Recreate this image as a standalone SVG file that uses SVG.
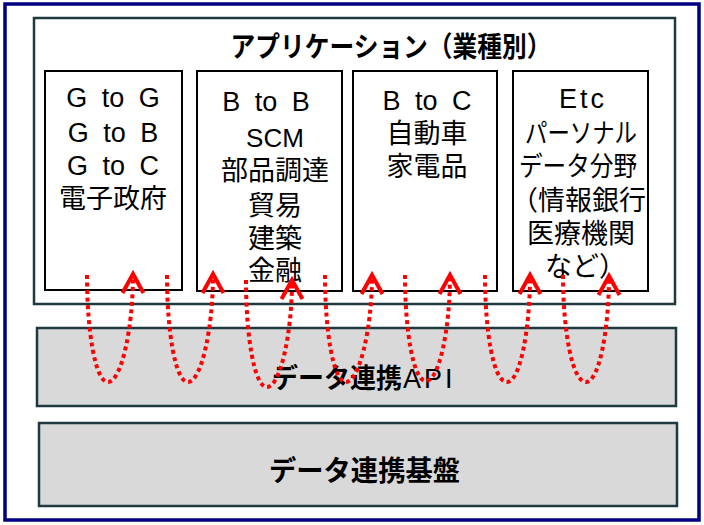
<svg xmlns="http://www.w3.org/2000/svg" width="704" height="525" viewBox="0 0 704 525">
<style>
.frame{fill:#fff;stroke:#000080;stroke-width:3.5}
.grp{fill:#fff;stroke:#1e3a40;stroke-width:2.5}
.card{fill:#fff;stroke:#000;stroke-width:2}
.layer{fill:#d9d9d9;stroke:#1e3a40;stroke-width:2.5}
.jp{font-family:"Noto Sans CJK JP","Noto Sans",sans-serif;font-size:27px;fill:#000}
.lat{font-family:"Liberation Sans",Arial,sans-serif;font-size:27px;fill:#000;word-spacing:7px}
.b{font-weight:bold}
.c{text-anchor:middle}
.flow{fill:none;stroke:#ff0000;stroke-width:4;stroke-dasharray:4 3.5}
</style>
<defs>
<marker id="chev" markerUnits="userSpaceOnUse" orient="auto" viewBox="-26 -16 32 32" markerWidth="32" markerHeight="32" refX="0" refY="0">
<path d="M-19,-10.5 L0,0 L-19,10.5" fill="none" stroke="#ff0000" stroke-width="4"/>
</marker>
</defs>
<rect class="frame" x="5" y="4" width="694" height="516"/>
<g id="app">
<rect class="grp" x="34" y="18" width="641" height="286"/>
<text class="jp b c" x="391" y="57" textLength="321" lengthAdjust="spacingAndGlyphs" style="font-size:28px">アプリケーション（業種別）</text>
</g>
<g id="g2x">
<rect class="card" x="45" y="71" width="137" height="219"/>
<text class="lat c" x="113" y="107">G to G</text>
<text class="lat c" x="113" y="142">G to B</text>
<text class="lat c" x="113" y="175">G to C</text>
<text class="jp c" x="113" y="208">電子政府</text>
</g>
<g id="b2b">
<rect class="card" x="197" y="71" width="145" height="220"/>
<text class="lat c" x="266" y="111">B to B</text>
<text class="lat c" x="275" y="147" style="font-size:26px">SCM</text>
<text class="jp c" x="275" y="180">部品調達</text>
<text class="jp c" x="275" y="215">貿易</text>
<text class="jp c" x="275" y="248">建築</text>
<text class="jp c" x="275" y="280">金融</text>
</g>
<g id="b2c">
<rect class="card" x="353" y="71" width="144" height="220"/>
<text class="lat c" x="427" y="110">B to C</text>
<text class="jp c" x="427" y="143">自動車</text>
<text class="jp c" x="427" y="176">家電品</text>
</g>
<g id="etc">
<rect class="card" x="513" y="71" width="135" height="220"/>
<text class="lat c" x="583" y="108" style="letter-spacing:3px">Etc</text>
<text class="jp c" x="581" y="143" textLength="112" lengthAdjust="spacingAndGlyphs">パーソナル</text>
<text class="jp c" x="578" y="176" textLength="118" lengthAdjust="spacingAndGlyphs">データ分野</text>
<text class="jp" x="511" y="210">（情報銀行</text>
<text class="jp c" x="581" y="243">医療機関</text>
<text class="jp" x="545" y="276">など）</text>
</g>
<g id="api">
<rect class="layer" x="37" y="328" width="639" height="78"/>
<text class="jp b" x="272" y="388" textLength="130" lengthAdjust="spacingAndGlyphs">データ連携</text>
<text class="lat" x="403" y="388" style="letter-spacing:3px">API</text>
</g>
<g id="base">
<rect class="layer" x="39" y="423" width="638" height="83"/>
<text class="jp b" x="269" y="481" textLength="191" lengthAdjust="spacingAndGlyphs" style="font-size:28px">データ連携基盤</text>
</g>
<g id="connectors">
<path class="flow" marker-end="url(#chev)" d="M87,275 C87,330 95,382 108,382 C121,382 133,330 133,274"/>
<path class="flow" marker-end="url(#chev)" d="M167,275 C167,330 175,382 188,382 C201,382 213,330 213,274"/>
<path class="flow" marker-end="url(#chev)" d="M246,280 C246,335 254,387 267,387 C280,387 292,335 292,280"/>
<path class="flow" marker-end="url(#chev)" d="M325,275 C325,330 333,382 346,382 C359,382 372,330 372,275"/>
<path class="flow" marker-end="url(#chev)" d="M405,275 C405,330 413,381 426,381 C439,381 450,330 450,275"/>
<path class="flow" marker-end="url(#chev)" d="M485,275 C485,330 493,382 507,382 C520,382 530,330 530,275"/>
<path class="flow" marker-end="url(#chev)" d="M563,275 C563,330 572,382 586,382 C599,382 609,330 609,276"/>
</g>
</svg>
